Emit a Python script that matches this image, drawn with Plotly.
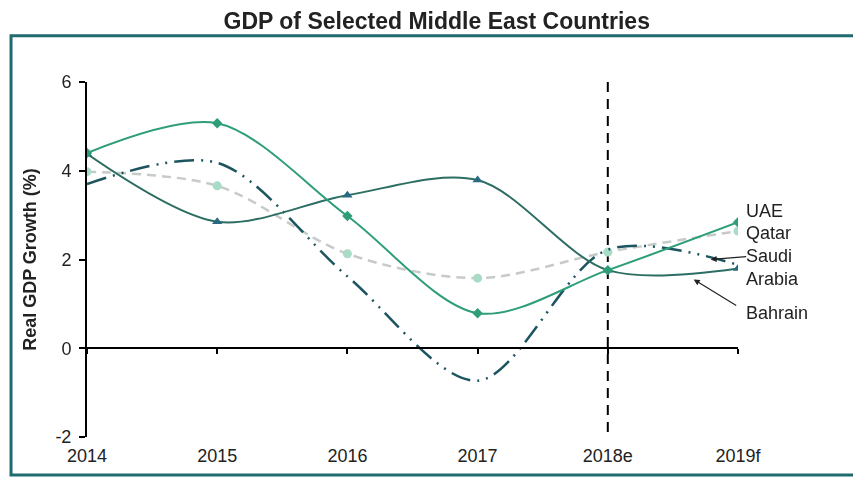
import plotly.graph_objects as go

years = ["2014", "2015", "2016", "2017", "2018e", "2019f"]
uae = [4.4, 5.07, 2.98, 0.79, 1.76, 2.84]
qatar = [3.98, 3.66, 2.13, 1.58, 2.17, 2.64]
saudi = [3.7, 4.18, 1.62, -0.73, 2.22, 1.88]
bahrain = [4.38, 2.85, 3.45, 3.79, 1.76, 1.8]
y_ticks = [-2, 0, 2, 4, 6]
forecast_year = "2018e"

FONT = "Liberation Sans, Arial, sans-serif"
C_UAE = "#2e9e78"
C_QAT_LINE = "#c6cbc9"
C_QAT_MK = "#a9dcc6"
C_SAU = "#1c5560"
C_BAH = "#2c6e63"

fig = go.Figure()

# forecast divider
fig.add_trace(go.Scatter(x=[forecast_year, forecast_year], y=[y_ticks[-1], y_ticks[0]],
                         mode="lines", line=dict(color="black", width=2, dash="10px,7px"),
                         hoverinfo="skip", showlegend=False))

fig.add_trace(go.Scatter(x=years, y=qatar, mode="lines+markers", name="Qatar",
                         line=dict(color=C_QAT_LINE, width=2.5, dash="9px,6px", shape="spline", smoothing=0.9),
                         marker=dict(symbol="circle", size=9, color=C_QAT_MK)))
fig.add_trace(go.Scatter(x=years, y=saudi, mode="lines", name="Saudi Arabia",
                         line=dict(color=C_SAU, width=2.5, dash="20px,7px,2px,7px,2px,7px",
                                   shape="spline", smoothing=0.9)))
fig.add_trace(go.Scatter(x=years, y=bahrain, mode="lines+markers", name="Bahrain",
                         line=dict(color=C_BAH, width=2, shape="spline", smoothing=0.9),
                         marker=dict(symbol="triangle-up", size=9, color="#2a6a80")))
fig.add_trace(go.Scatter(x=years, y=uae, mode="lines+markers", name="UAE",
                         line=dict(color=C_UAE, width=2, shape="spline", smoothing=0.9),
                         marker=dict(symbol="diamond", size=8, color=C_UAE)))

# invisible trace to carry the bottom label axis
fig.add_trace(go.Scatter(x=years, y=qatar, xaxis="x2", mode="markers", opacity=0,
                         hoverinfo="skip", showlegend=False))

ymin, ymax = y_ticks[0], y_ticks[-1]
zero_pos = (0 - ymin) / (ymax - ymin)

fig.update_layout(
    width=853, height=477,
    margin=dict(l=87, r=115, t=82, b=40),
    paper_bgcolor="white", plot_bgcolor="white",
    showlegend=False,
    font=dict(family=FONT, size=17, color="#222222"),
    title=dict(text="<b>GDP of Selected Middle East Countries</b>", x=0.512, xanchor="center",
               y=0.957, yanchor="middle", font=dict(family=FONT, size=23, color="#222222")),
    xaxis=dict(type="category", categoryorder="array", categoryarray=years, range=[0, 5],
               anchor="free", position=zero_pos, showline=True, linecolor="black", linewidth=2,
               ticks="outside", ticklen=5, tickwidth=2, tickcolor="black",
               showticklabels=False, showgrid=False, zeroline=False),
    xaxis2=dict(type="category", categoryorder="array", categoryarray=years, range=[0, 5],
                overlaying="x", anchor="y", side="bottom", showline=False, ticks="",
                showticklabels=True, showgrid=False, zeroline=False, ticklabelstandoff=6,
                tickfont=dict(family=FONT, size=18, color="#222222")),
    yaxis=dict(range=[ymin, ymax], tickvals=y_ticks, ticktext=[str(v) for v in y_ticks],
               showline=True, linecolor="black", linewidth=2,
               ticks="outside", ticklen=6, tickwidth=2, tickcolor="black",
               showgrid=False, zeroline=False, ticklabelstandoff=4,
               tickfont=dict(family=FONT, size=18, color="#222222"),
               title=dict(text="<b>Real GDP Growth (%)</b>", standoff=14,
                          font=dict(family=FONT, size=18, color="#222222"))),
)

# frame around the chart
fig.add_shape(type="rect", xref="paper", yref="paper", x0=-0.1167, x1=1.2, y0=-0.107, y1=1.13,
              line=dict(color="#1f6b70", width=3), fillcolor="rgba(0,0,0,0)", layer="below")

# series labels
labels = [("UAE", 3.1), ("Qatar", 2.6), ("Saudi<br>Arabia", 1.83), ("Bahrain", 0.79)]
for txt, yv in labels:
    fig.add_annotation(text=txt, xref="paper", x=1, xanchor="left", xshift=6, yref="y", y=yv,
                       showarrow=False, align="left", font=dict(family=FONT, size=18, color="#222222"))

# pointer arrows
fig.add_annotation(x=4.79, y=2.0, xref="x", yref="y", text="", showarrow=True, arrowhead=2,
                   arrowsize=1, arrowwidth=1.2, arrowcolor="#222222", ax=37, ay=-3)
fig.add_annotation(x=4.66, y=1.55, xref="x", yref="y", text="", showarrow=True, arrowhead=2,
                   arrowsize=1, arrowwidth=1.2, arrowcolor="#222222", ax=44, ay=27)

fig.write_html("out.html")
